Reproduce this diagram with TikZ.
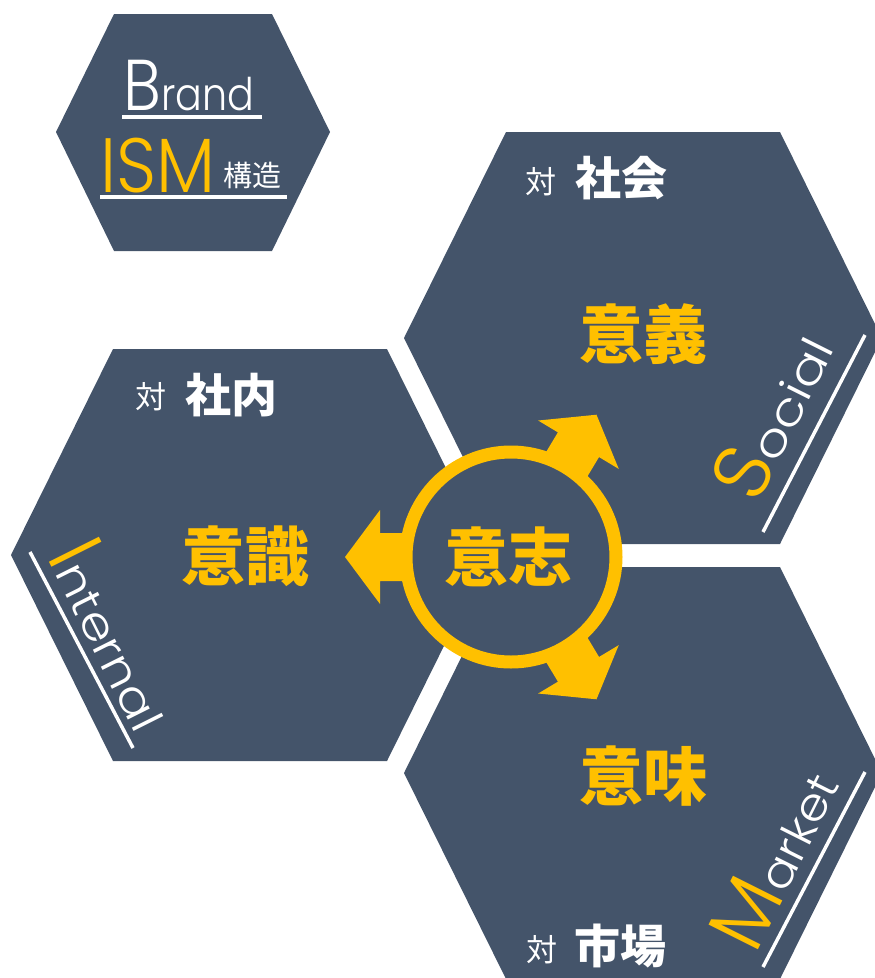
\documentclass[tikz,border=0pt]{standalone}
\usepackage{fontspec}
\setmainfont{Poppins}[UprightFont={* Light}]
\newfontfamily\cjk{Noto Sans CJK JP}
\definecolor{hexblue}{HTML}{44546A}
\definecolor{gold}{HTML}{FFC000}
\newcommand{\fsz}[1]{\fontsize{#1}{#1}\selectfont}
\begin{document}
\begin{tikzpicture}[x=1pt,y=-1pt,
  hexa/.style={fill=hexblue},
  uline/.style={draw=white,line width=3.5pt},
  txt/.style={inner sep=0pt,outer sep=0pt},
  big/.style={txt,text=gold,font=\cjk\bfseries\fsz{64}},
  mid/.style={txt,text=white,font=\cjk\bfseries\fsz{46}},
  tai/.style={txt,text=white,font=\cjk\fsz{31}},
  blockarrow/.style={fill=gold}]
\useasboundingbox (0,0) rectangle (875,978);
\begin{scope}
\clip (0,0) rectangle (875,978);
% hexagons
\fill[hexa] (114,14) -- (272,14) -- (330,132) -- (272,251) -- (114,251) -- (56,132) -- cycle;
\fill[hexa] (506,132) -- (780,132) -- (882,338) -- (780,544) -- (506,544) -- (404,338) -- cycle;
\fill[hexa] (113,349) -- (387,349) -- (489,555) -- (387,761) -- (113,761) -- (11,555) -- cycle;
\fill[hexa] (506,567) -- (780,567) -- (882,773) -- (780,979) -- (506,979) -- (404,773) -- cycle;
\end{scope}
% block arrows
\foreach \a in {59,180,-59}{
  \fill[blockarrow,shift={(511,557)},rotate=\a]
    (60,-24) -- (131,-24) -- (131,-47) -- (166,0) -- (131,47) -- (131,24) -- (60,24) -- cycle;
}
% central circle
\node[circle,draw=gold,line width=13pt,fill=hexblue,minimum size=210pt,inner sep=0pt] (core) at (511,557) {};
\node[big] (ishi) at (508,557) {意志};
% main words
\node[big] (igi) at (643,334) {意義};
\node[big] (ishiki) at (245,556) {意識};
\node[big] (imi) at (643,776) {意味};
% sub headings
\node[tai] (t1) at (541,182) {対};
\node[mid] (shakai) at (621,178) {社会};
\node[tai] (t2) at (151,397) {対};
\node[mid] (shanai) at (231,395) {社内};
\node[tai] (t3) at (542,950) {対};
\node[mid] (shijo) at (620,946) {市場};
% Brand ISM
\node[txt,text=white,anchor=base] (brand) at (189,110) {\scalebox{0.88}[1]{\fsz{72}B\fsz{45}rand}};
\coordinate (bu1) at (122,117); \coordinate (bu2) at (262,117);
\draw[uline] (bu1) -- (bu2);
\node[txt,text=gold,anchor=base] (ism) at (158,192) {\scalebox{0.91}[1]{\fsz{77}ISM}};
\node[txt,text=white,font=\cjk\fsz{29}] (kozo) at (252,175) {構造};
\coordinate (iu1) at (100,197); \coordinate (iu2) at (287,197);
\draw[uline] (iu1) -- (iu2);
% rotated labels
\node[txt,text=white,anchor=base west,rotate=63.4] (social) at (757,505) {\textcolor{gold}{\fsz{80}S}\scalebox{1.2}[1]{\fsz{45}ocial}};
\coordinate (su1) at (763,532); \coordinate (su2) at (865,335);
\draw[uline] (su1) -- (su2);
\node[txt,text=white,anchor=base west,rotate=63.4] (market) at (755,955) {\textcolor{gold}{\fsz{80}M}\scalebox{1.1}[1]{\fsz{45}arket}};
\coordinate (mu1) at (763,967); \coordinate (mu2) at (865,772);
\draw[uline] (mu1) -- (mu2);
\node[txt,text=white,anchor=base west,rotate=-63.4] (internal) at (46,556) {\textcolor{gold}{\fsz{80}I}\scalebox{1.15}[1]{\fsz{45}nternal}};
\coordinate (nu1) at (30,552); \coordinate (nu2) at (133,748);
\draw[uline] (nu1) -- (nu2);
\end{tikzpicture}
\end{document}
